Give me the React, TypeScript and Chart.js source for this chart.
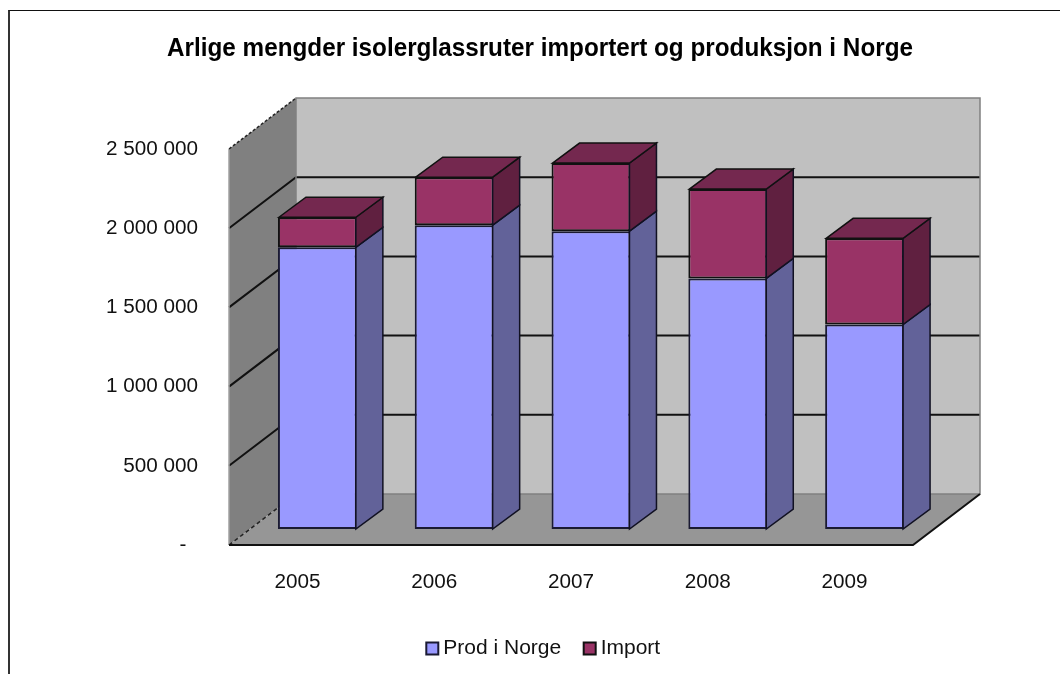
import React, { useEffect, useRef } from "react";
import { Chart, registerables } from "chart.js";

Chart.register(...registerables);

const years = ["2005", "2006", "2007", "2008", "2009"];
const prodINorge = [1778000, 1918000, 1880000, 1582000, 1291000];
const importert = [190000, 303000, 430000, 564000, 544000];
const yTicks = [0, 500000, 1000000, 1500000, 2000000, 2500000];
const titleText = "Arlige mengder isolerglassruter importert og produksjon i Norge";

const FONT = "'Liberation Sans', Arial, sans-serif";
const WALL = { dx: 67, dy: -51 };
const SHIFT = { dx: 20, dy: -16 };
const BAR = { dx: 27, dy: -20 };

function poly(ctx: CanvasRenderingContext2D, pts: number[][], fill?: string, stroke?: string, lw = 1, dash: number[] = []) {
  ctx.beginPath();
  pts.forEach((p, i) => (i ? ctx.lineTo(p[0], p[1]) : ctx.moveTo(p[0], p[1])));
  if (fill) {
    ctx.closePath();
    ctx.fillStyle = fill;
    ctx.fill();
  }
  if (stroke) {
    ctx.strokeStyle = stroke;
    ctx.lineWidth = lw;
    ctx.setLineDash(dash);
    ctx.stroke();
    ctx.setLineDash([]);
  }
}

const walls3d = {
  id: "walls3d",
  afterLayout(chart: any) {
    chart.legend.left += 6;
    chart.legend.right += 6;
    chart.scales.y.left = 60;
  },
  beforeDatasetsDraw(chart: any) {
    const { ctx, chartArea: a, scales } = chart;
    const y = scales.y;
    const L = a.left, R = a.right, T = y.getPixelForValue(yTicks[yTicks.length - 1]), B = y.getPixelForValue(0);
    const { dx, dy } = WALL;
    ctx.save();
    poly(ctx, [[L, T], [L + dx, T + dy], [L + dx, B + dy], [L, B]], "#808080");
    poly(ctx, [[L + dx, T + dy], [R + dx, T + dy], [R + dx, B + dy], [L + dx, B + dy]], "#C0C0C0");
    poly(ctx, [[L, B], [L + dx, B + dy], [R + dx, B + dy], [R, B]], "#969696");
    yTicks.slice(1, -1).forEach((v) => {
      const p = y.getPixelForValue(v);
      poly(ctx, [[L, p], [L + dx, p + dy], [R + dx, p + dy]], undefined, "#111111", 2);
    });
    poly(ctx, [[L + dx, B + dy], [L + dx, T + dy], [R + dx, T + dy], [R + dx, B + dy], [L + dx, B + dy]], undefined, "#808080", 1.5);
    poly(ctx, [[L, B], [L, T]], undefined, "#A0A0A0", 1.5);
    poly(ctx, [[L, T], [L + dx, T + dy]], undefined, "#222222", 1.5, [3, 2]);
    poly(ctx, [[L, B], [L + dx, B + dy]], undefined, "#222222", 1.5, [4, 3]);
    poly(ctx, [[L, B], [R, B], [R + dx, B + dy]], undefined, "#111111", 2);
    ctx.translate(SHIFT.dx, SHIFT.dy);
  },
  afterDatasetsDraw(chart: any) {
    const { ctx } = chart;
    const sideFill = ["#626299", "#602040"];
    chart.data.datasets.forEach((_: any, di: number) => {
      chart.getDatasetMeta(di).data.forEach((bar: any) => {
        const r = bar.x + bar.width / 2 - 1;
        const l = bar.x - bar.width / 2 + 1;
        poly(ctx, [[r, bar.y], [r + BAR.dx, bar.y + BAR.dy], [r + BAR.dx, bar.base + BAR.dy], [r, bar.base]], sideFill[di], "#111122", 1.5);
        if (di === chart.data.datasets.length - 1) {
          poly(ctx, [[l, bar.y], [l + BAR.dx, bar.y + BAR.dy], [r + BAR.dx, bar.y + BAR.dy], [r, bar.y]], "#74284F", "#111111", 1.5);
        }
      });
    });
    ctx.restore();
  },
};

export default function App() {
  const ref = useRef<HTMLCanvasElement>(null);
  useEffect(() => {
    const chart = new Chart(ref.current as HTMLCanvasElement, {
      type: "bar",
      data: {
        labels: years,
        datasets: [
          { label: "Prod i Norge", data: prodINorge, backgroundColor: "#9999FF", borderColor: "#1A1A33", borderWidth: 2, borderSkipped: false, clip: false },
          { label: "Import", data: importert, backgroundColor: "#993366", borderColor: "#111111", borderWidth: 2, borderSkipped: false, clip: false },
        ],
      },
      options: {
        responsive: false,
        animation: false,
        layout: { padding: { left: 157, right: 157, top: 0, bottom: 22 } },
        datasets: { bar: { barPercentage: 0.577, categoryPercentage: 1 } },
        plugins: {
          tooltip: { enabled: false },
          title: {
            display: true,
            text: titleText,
            color: "#000000",
            font: { family: FONT, size: 25, weight: "bold" },
            padding: { top: 23, bottom: 85 },
          },
          legend: {
            position: "bottom",
            labels: {
              usePointStyle: true,
              pointStyle: "rect",
              boxWidth: 1,
              boxHeight: 12,
              padding: 28,
              color: "#111111",
              font: { family: FONT, size: 21 },
            },
          },
        },
        scales: {
          x: {
            stacked: true,
            grid: { display: false, drawTicks: false },
            border: { display: false },
            ticks: { color: "#111111", font: { family: FONT, size: 20.7 }, padding: 25, maxRotation: 0 },
            afterFit: (s: any) => { s.height = 65; },
          },
          y: {
            stacked: true,
            min: 0,
            max: 2500000,
            grid: { display: false, drawTicks: false },
            border: { display: false },
            afterBuildTicks: (s: any) => { s.ticks = yTicks.map((value) => ({ value })); },
            ticks: {
              color: "#111111",
              font: { family: FONT, size: 20.7 },
              padding: 31,
              callback: (v: any) => (v === 0 ? "-  " : String(v).replace(/\B(?=(\d{3})+$)/g, " ")),
            },
            afterFit: (s: any) => { s.width = 62; },
          },
        },
      },
      plugins: [walls3d],
    } as any);
    return () => chart.destroy();
  }, []);
  return (
    <div style={{ position: "fixed", left: 0, top: 0, width: 1060, height: 674, overflow: "hidden", background: "#fff" }}>
      <div style={{ position: "absolute", left: 8, top: 10, width: 1100, height: 720, borderLeft: "2px solid #333", borderTop: "1.5px solid #111" }} />
      <canvas ref={ref} width={1060} height={680} style={{ position: "absolute", left: 10, top: 11 }} />
    </div>
  );
}
